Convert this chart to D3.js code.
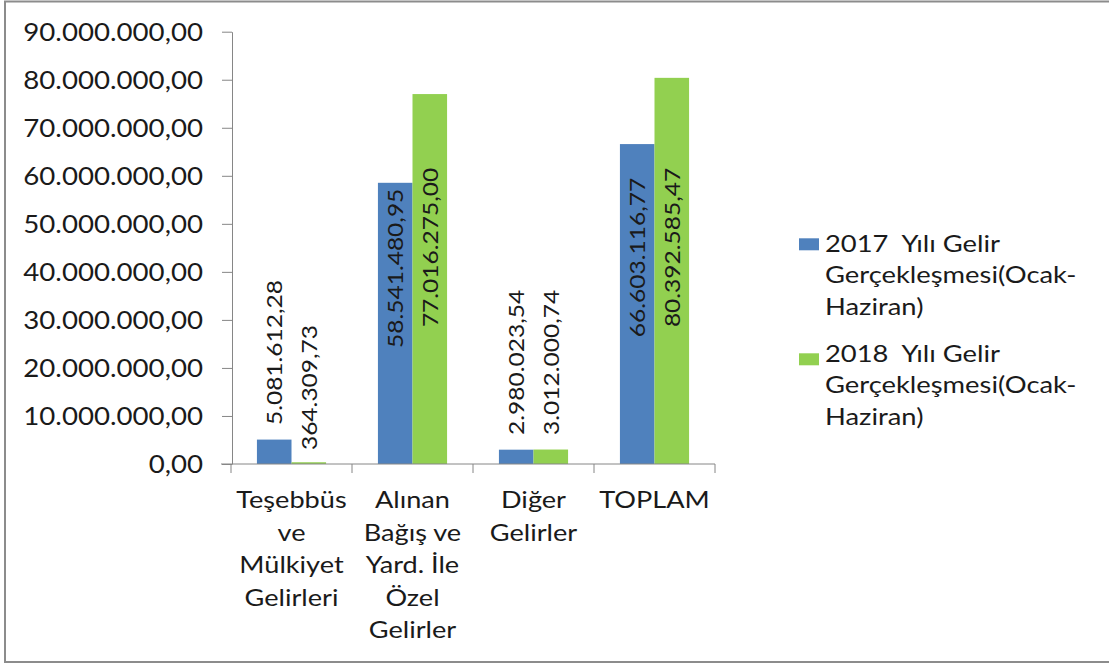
<!DOCTYPE html>
<html><head><meta charset="utf-8">
<script src="https://cdn.jsdelivr.net/npm/d3@7"></script>
<style>
html,body{margin:0;padding:0;background:#fff;}
svg{display:block;font-family:Lato, "Open Sans", sans-serif;}
</style></head>
<body><svg id="chart" width="1109" height="666"></svg>
<script>
// ---- data ----
const categories = [
  ["Teşebbüs","ve","Mülkiyet","Gelirleri"],
  ["Alınan","Bağış ve","Yard. İle","Özel","Gelirler"],
  ["Diğer","Gelirler"],
  ["TOPLAM"]
];
const seriesNames = [
  ["2017  Yılı Gelir","Gerçekleşmesi(Ocak-","Haziran)"],
  ["2018  Yılı Gelir","Gerçekleşmesi(Ocak-","Haziran)"]
];
const values2017 = [5081612.28, 58541480.95, 2980023.54, 66603116.77];
const values2018 = [364309.73, 77016275.00, 3012000.74, 80392585.47];
const yTicks = [0,10000000,20000000,30000000,40000000,50000000,60000000,70000000,80000000,90000000];

// ---- layout (label anchor, in value units, where each rotated label starts) ----
const labelStart2017 = [8100000, 24150000, 6050000, 26400000];
const labelStart2018 = [2900000, 28500000, 6050000, 28500000];
const colors = ["#4F81BD", "#92D050"];
const STRETCH = 1.12;

const svg = d3.select("#chart");
const tr = d3.formatLocale({decimal:",", thousands:".", grouping:[3], currency:["",""]});
const fmt = tr.format(",.2f");

function stretch(sel, k){
  sel.each(function(){
    const w = this.getComputedTextLength();
    if (w > 0) {
      this.setAttribute("textLength", (w*k).toFixed(2));
      this.setAttribute("lengthAdjust", "spacingAndGlyphs");
    }
  });
}

const catKeys = categories.map((c,i)=>"c"+i);
const x = d3.scaleBand().domain(catKeys).range([231, 715]).paddingInner(0).paddingOuter(0);
const xs = d3.scaleBand().domain([0,1]).range([0, x.bandwidth()]).paddingInner(0).paddingOuter(0.75);
const y = d3.scaleLinear().domain([0, 90000000]).range([464, 31.7]);

// frame
svg.append("rect").attr("x",5).attr("y",1.5).attr("width",1120).attr("height",660.5)
  .attr("fill","none").attr("stroke","#8c8c8c").attr("stroke-width",2);

// bars
const seriesVals = [values2017, values2018];
const labelStarts = [labelStart2017, labelStart2018];
seriesVals.forEach((vals, s) => {
  svg.append("g").selectAll("rect").data(vals).join("rect")
    .attr("x",(d,i)=>x(catKeys[i]) + xs(s))
    .attr("width", xs.bandwidth())
    .attr("y", d=>y(d))
    .attr("height", d=>y(0)-y(d))
    .attr("fill", colors[s]);
});

// y axis
const yAxis = d3.axisLeft(y).tickValues(yTicks).tickFormat(fmt).tickSizeInner(10).tickSizeOuter(0).tickPadding(19);
const gy = svg.append("g").attr("transform","translate(232,0)").call(yAxis);
gy.select(".domain").attr("stroke","#868686");
gy.selectAll(".tick line").attr("stroke","#868686");
gy.selectAll(".tick text").attr("font-size",24.7).attr("fill","#1a1a1a").attr("font-family","Lato").attr("dy","0.35em");
stretch(gy.selectAll(".tick text"), STRETCH);

// x axis
const gx = svg.append("g").attr("transform","translate(0,464)");
gx.append("line").attr("x1",221).attr("x2",x.range()[1]).attr("y1",0).attr("y2",0).attr("stroke","#868686");
const bounds = catKeys.map(k=>x(k)).concat([x.range()[1]]);
gx.selectAll("line.sep").data(bounds).join("line").attr("class","sep")
  .attr("x1",d=>d).attr("x2",d=>d).attr("y1",0).attr("y2",9).attr("stroke","#868686");

// category labels
categories.forEach((lines,i)=>{
  const t = svg.append("text").attr("text-anchor","middle").attr("font-size",24)
    .attr("fill","#1a1a1a").attr("font-family","Lato");
  lines.forEach((ln,j)=>{
    t.append("tspan").attr("x", x(catKeys[i]) + x.bandwidth()/2).attr("y", 508 + j*32.5).text(ln);
  });
  stretch(t.selectAll("tspan"), 1.13);
});

// data labels (rotated)
seriesVals.forEach((vals, s) => {
  const lt = svg.append("g").selectAll("text").data(vals).join("text")
    .attr("transform",(d,i)=>{
      const cx = x(catKeys[i]) + xs(s) + xs.bandwidth()/2;
      return `translate(${cx},${y(labelStarts[s][i])}) rotate(-90)`;
    })
    .attr("dy","0.36em")
    .attr("font-size",21.9).attr("font-family","Lato").attr("fill","#1a1a1a")
    .text(d=>fmt(d));
  stretch(lt, STRETCH);
});

// legend
seriesNames.forEach((lines,s)=>{
  const top = 238.3 + s*115;
  svg.append("rect").attr("x",799).attr("y",top).attr("width",20).attr("height",12).attr("fill",colors[s]);
  const t = svg.append("text").attr("font-size",24).attr("fill","#1a1a1a").attr("font-family","Lato")
    .style("white-space","pre");
  lines.forEach((ln,j)=>{
    t.append("tspan").attr("x",825).attr("y", 251.7 + s*110 + j*31.7).text(ln);
  });
  stretch(t.selectAll("tspan"), 1.14);
});
</script></body></html>
